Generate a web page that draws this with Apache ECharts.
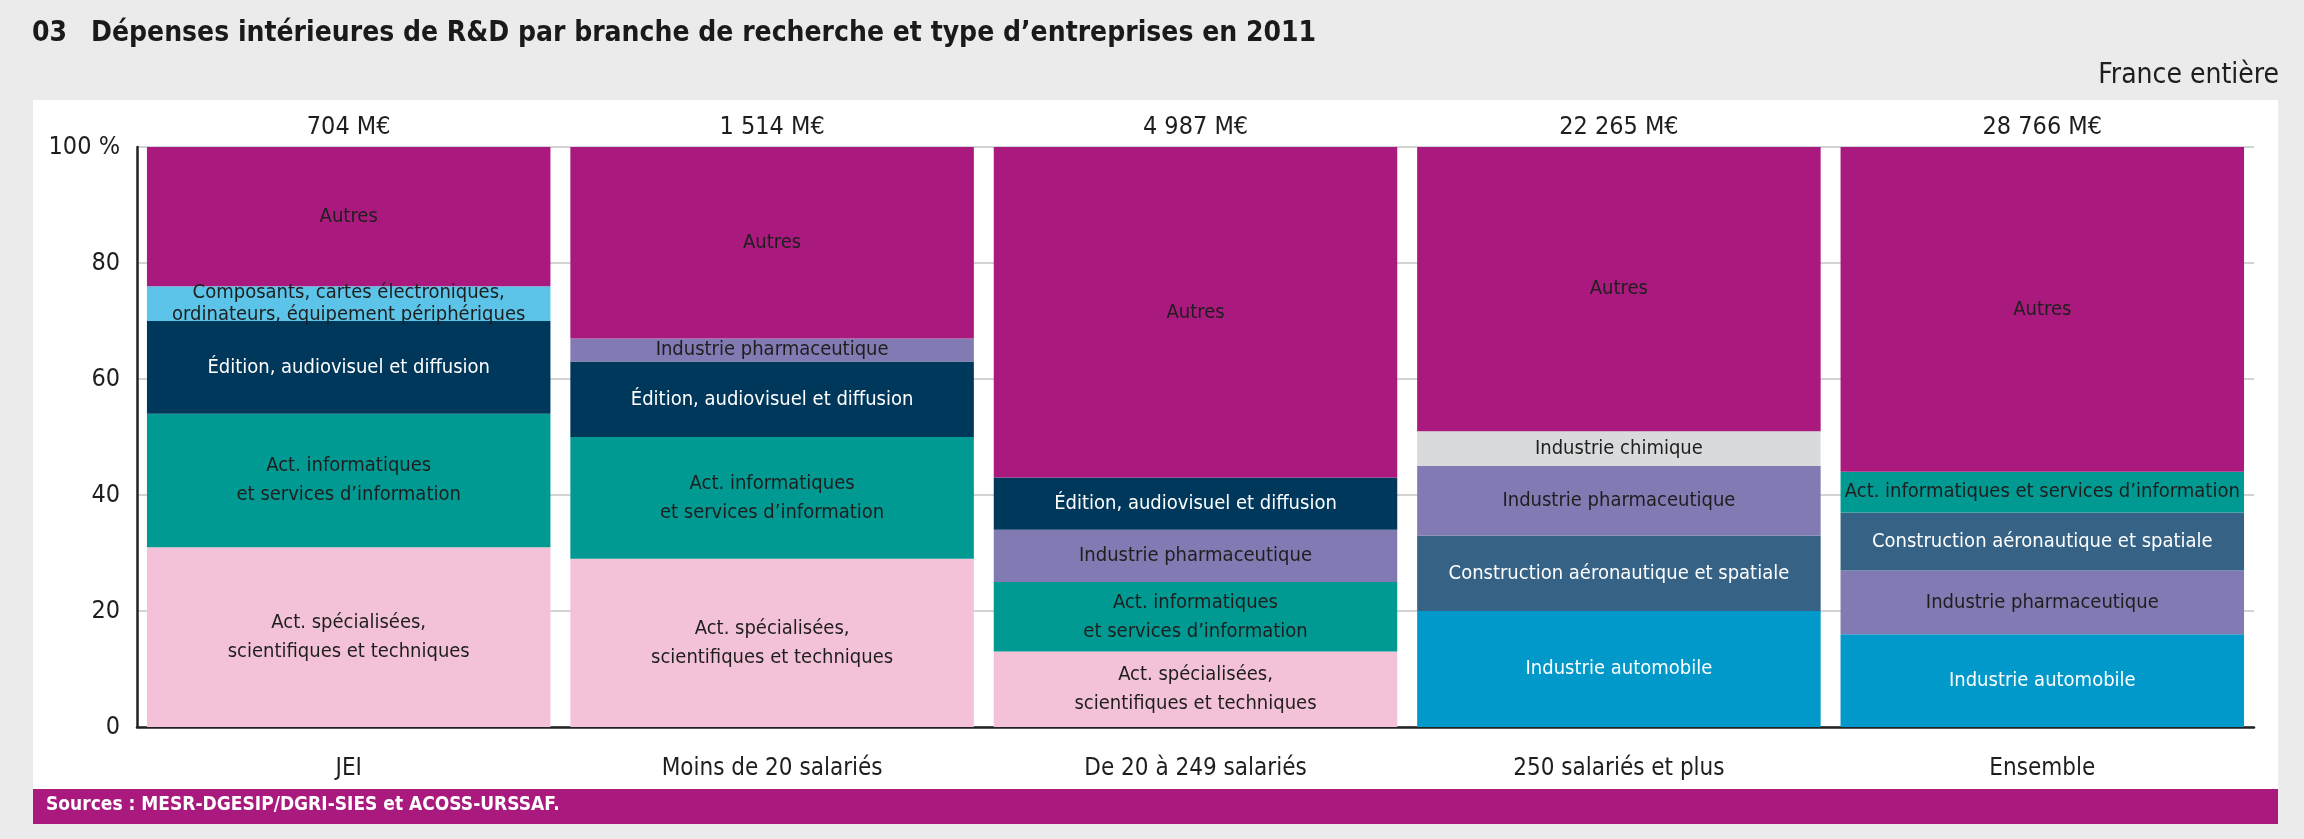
<!DOCTYPE html>
<html>
<head>
<meta charset="utf-8">
<script src="https://cdn.jsdelivr.net/npm/echarts@6/dist/echarts.min.js"></script>
<style>
html, body { margin: 0; padding: 0; background: #ebebeb; }
#container { width: 2304px; height: 839px; }
</style>
</head>
<body>
<div id="container"></div>
<script>
// types d'entreprises
var categories = ['JEI', 'Moins de 20 salariés', 'De 20 à 249 salariés', '250 salariés et plus', 'Ensemble'];
var totals = ['704 M€', '1 514 M€', '4 987 M€', '22 265 M€', '28 766 M€'];
var yTicks = [0, 20, 40, 60, 80, 100];

// branches empilées du bas vers le haut, pour chaque type d'entreprises
var stackBranches = [
    ['Act. spécialisées', 'Act. informatiques', 'Édition', 'Composants', 'Autres'],
    ['Act. spécialisées', 'Act. informatiques', 'Édition', 'Pharmacie', 'Autres'],
    ['Act. spécialisées', 'Act. informatiques', 'Pharmacie', 'Édition', 'Autres'],
    ['Automobile', 'Aéronautique', 'Pharmacie', 'Chimie', 'Autres'],
    ['Automobile', 'Pharmacie', 'Aéronautique', 'Act. informatiques', 'Autres']
];
// parts (%) dans le même ordre
var stackShares = [
    [31, 23, 16, 6, 24],
    [29, 21, 13, 4, 33],
    [13, 12, 9, 9, 57],
    [20, 13, 12, 6, 49],
    [16, 11, 10, 7, 56]
];
// libellés affichés dans les barres
var stackLabels = [
    ['Act. spécialisées,\nscientifiques et techniques', 'Act. informatiques\net services d\u2019information', 'Édition, audiovisuel et diffusion', 'Composants, cartes électroniques,\nordinateurs, équipement périphériques', 'Autres'],
    ['Act. spécialisées,\nscientifiques et techniques', 'Act. informatiques\net services d\u2019information', 'Édition, audiovisuel et diffusion', 'Industrie pharmaceutique', 'Autres'],
    ['Act. spécialisées,\nscientifiques et techniques', 'Act. informatiques\net services d\u2019information', 'Industrie pharmaceutique', 'Édition, audiovisuel et diffusion', 'Autres'],
    ['Industrie automobile', 'Construction aéronautique et spatiale', 'Industrie pharmaceutique', 'Industrie chimique', 'Autres'],
    ['Industrie automobile', 'Industrie pharmaceutique', 'Construction aéronautique et spatiale', 'Act. informatiques et services d\u2019information', 'Autres']
];

var branchColors = {
    'Act. spécialisées': '#f4c2d8',
    'Act. informatiques': '#009a93',
    'Édition': '#00385c',
    'Composants': '#5bc4e8',
    'Pharmacie': '#827ab2',
    'Chimie': '#d9dadc',
    'Aéronautique': '#366385',
    'Automobile': '#0099ca',
    'Autres': '#aa1a7e'
};
var whiteText = { 'Édition': true, 'Aéronautique': true, 'Automobile': true };

var FONT = "'Liberation Sans Narrow', 'Arial Narrow', 'DejaVu Sans Condensed', sans-serif";

var dom = document.getElementById('container');
var myChart = echarts.init(dom);

var series = [];
for (var level = 0; level < 5; level++) {
    var data = [];
    for (var j = 0; j < categories.length; j++) {
        var branch = stackBranches[j][level];
        data.push({
            value: stackShares[j][level],
            itemStyle: { color: branchColors[branch] },
            label: {
                formatter: stackLabels[j][level],
                color: whiteText[branch] ? '#ffffff' : '#1e1e1e',
                lineHeight: branch === 'Composants' ? 22 : 29
            }
        });
    }
    series.push({
        type: 'bar',
        stack: 'total',
        barCategoryGap: '4.7%',
        silent: true,
        label: {
            show: true,
            position: 'inside',
            fontFamily: FONT,
            fontSize: 20,
            lineHeight: 29
        },
        data: data
    });
}

var option = {
    backgroundColor: '#ebebeb',
    animation: false,
    grid: { left: 137, right: 50, top: 147, bottom: 112 },
    xAxis: [{
        type: 'category',
        data: categories,
        axisLine: { lineStyle: { color: '#222', width: 2.5 } },
        axisTick: { show: false },
        axisLabel: { margin: 30, fontFamily: FONT, fontSize: 24, color: '#1e1e1e' }
    }, {
        type: 'category',
        position: 'top',
        data: totals,
        axisLine: { show: false },
        axisTick: { show: false },
        axisLabel: { margin: 7, fontFamily: FONT, fontSize: 25, color: '#1e1e1e' }
    }],
    yAxis: {
        type: 'value',
        min: yTicks[0],
        max: yTicks[yTicks.length - 1],
        interval: 20,
        axisLine: { show: true, lineStyle: { color: '#222', width: 2.5 } },
        axisTick: { show: false },
        splitLine: { lineStyle: { color: '#c4c4c4', width: 1.5 } },
        axisLabel: {
            margin: 17, fontFamily: FONT, fontSize: 25, color: '#1e1e1e',
            formatter: function (v) { return v === 100 ? '100 %' : String(v); }
        }
    },
    graphic: [
        { type: 'rect', z: -10, shape: { x: 33, y: 100, width: 2245, height: 689 }, style: { fill: '#ffffff' } },
        { type: 'rect', z: -10, shape: { x: 33, y: 789, width: 2245, height: 35 }, style: { fill: '#aa1a7e' } },
        { type: 'text', left: 46, top: 796, style: { text: 'Sources : MESR-DGESIP/DGRI-SIES et ACOSS-URSSAF.', fill: '#ffffff', font: 'bold 19px ' + FONT } },
        { type: 'text', left: 32, top: 20, style: { text: '03', fill: '#1a1a1a', font: 'bold 28px ' + FONT } },
        { type: 'text', left: 91, top: 20, style: { text: 'Dépenses intérieures de R&D par branche de recherche et type d\u2019entreprises en 2011', fill: '#1a1a1a', font: 'bold 28px ' + FONT } },
        { type: 'text', right: 25, top: 62, style: { text: 'France entière', fill: '#1e1e1e', font: '28px ' + FONT } }
    ],
    series: series
};

myChart.setOption(option);
</script>
</body>
</html>
